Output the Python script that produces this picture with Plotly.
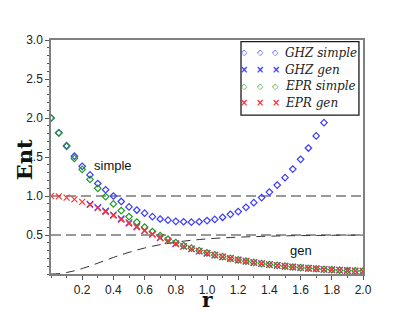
import plotly.graph_objects as go

# ---- data ----
r_grid = [0.00, 0.05, 0.10, 0.15, 0.20, 0.25, 0.30, 0.35, 0.40, 0.45,
          0.50, 0.55, 0.60, 0.65, 0.70, 0.75, 0.80, 0.85, 0.90, 0.95,
          1.00, 1.05, 1.10, 1.15, 1.20, 1.25, 1.30, 1.35, 1.40, 1.45,
          1.50, 1.55, 1.60, 1.65, 1.70, 1.75, 1.80, 1.85, 1.90, 1.95, 2.00]

ghz_simple_r = r_grid[:36]
ghz_simple = [2.00, 1.81, 1.645, 1.51, 1.38, 1.27, 1.16, 1.08, 1.00, 0.93,
              0.86, 0.82, 0.78, 0.735, 0.705, 0.69, 0.675, 0.67, 0.665, 0.67,
              0.685, 0.70, 0.727, 0.765, 0.80, 0.855, 0.915, 0.98, 1.05, 1.14,
              1.235, 1.345, 1.47, 1.615, 1.77, 1.94]

ghz_gen_r = r_grid[5:]
ghz_gen = [0.895, 0.855, 0.808, 0.758, 0.708, 0.658, 0.609, 0.560, 0.512, 0.465,
           0.425, 0.388, 0.354, 0.322, 0.293, 0.266, 0.241, 0.219, 0.199, 0.180,
           0.163, 0.148, 0.134, 0.121, 0.110, 0.099, 0.090, 0.081, 0.074, 0.067,
           0.060, 0.055, 0.049, 0.045, 0.041, 0.037]

epr_simple = [2.000, 1.810, 1.637, 1.482, 1.341, 1.213, 1.098, 0.993, 0.899, 0.813,
              0.736, 0.666, 0.602, 0.545, 0.493, 0.446, 0.404, 0.365, 0.331, 0.299,
              0.271, 0.245, 0.222, 0.200, 0.181, 0.164, 0.149, 0.134, 0.122, 0.110,
              0.100, 0.090, 0.082, 0.074, 0.067, 0.060, 0.055, 0.049, 0.045, 0.041, 0.037]

epr_gen = [1.000, 0.995, 0.980, 0.957, 0.925, 0.887, 0.844, 0.797, 0.748, 0.698,
           0.648, 0.599, 0.552, 0.507, 0.465, 0.425, 0.388, 0.354, 0.322, 0.293,
           0.266, 0.241, 0.219, 0.199, 0.180, 0.163, 0.148, 0.134, 0.121, 0.110,
           0.099, 0.090, 0.081, 0.074, 0.067, 0.060, 0.055, 0.049, 0.045, 0.041, 0.037]

bound_curve = [0.000, 0.005, 0.019, 0.041, 0.070, 0.103, 0.139, 0.176, 0.212, 0.246,
               0.278, 0.307, 0.333, 0.356, 0.376, 0.393, 0.408, 0.421, 0.432, 0.442,
               0.450, 0.457, 0.463, 0.468, 0.472, 0.476, 0.479, 0.482, 0.485, 0.487,
               0.489, 0.491, 0.492, 0.493, 0.494, 0.495, 0.496, 0.497, 0.498, 0.498, 0.499]

ref_levels = [1.0, 0.5]
x_range = [0.0, 2.0]
y_range = [0.0, 3.0]
x_ticks = [0.2, 0.4, 0.6, 0.8, 1.0, 1.2, 1.4, 1.6, 1.8, 2.0]
x_ticktext = ["0.2", "0.4", "0.6", "0.8", "1.0", "1.2", "1.4", "1.6", "1.8", "2.0"]
y_ticks = [0.5, 1.0, 1.5, 2.0, 2.5, 3.0]
y_ticktext = ["0.5", "1.0", "1.5", "2.0", "2.5", "3.0"]

series_names = ["GHZ simple", "GHZ gen", "EPR simple", "EPR gen"]
x_title = "<b>r</b>"
y_title = "<b>Ent</b>"

BLUE = "#3a3aff"
GREEN = "#1f9a1f"
RED = "#ff3333"

series_colors = [BLUE, BLUE, GREEN, RED]
series_glyphs = ["\u25C7", "\u00D7", "\u25C7", "\u00D7"]   # legend key glyphs

fig = go.Figure()

# reference dashed levels
for lv in ref_levels:
    fig.add_trace(go.Scatter(x=x_range, y=[lv, lv], mode="lines",
                             line=dict(color="#333333", width=1, dash="10px,5px"),
                             showlegend=False, hoverinfo="skip"))

# dashed bound curve
fig.add_trace(go.Scatter(x=r_grid, y=bound_curve, mode="lines",
                         line=dict(color="#333333", width=1, dash="9px,6px", shape="spline"),
                         showlegend=False, hoverinfo="skip"))

fig.add_trace(go.Scatter(x=ghz_simple_r, y=ghz_simple, mode="markers", name=series_names[0],
                         showlegend=False,
                         marker=dict(symbol="diamond-open", size=5, color=BLUE,
                                     line=dict(width=1.2, color=BLUE))))
fig.add_trace(go.Scatter(x=ghz_gen_r, y=ghz_gen, mode="markers", name=series_names[1],
                         showlegend=False,
                         marker=dict(symbol="x-thin-open", size=6.5, color=BLUE,
                                     line=dict(width=1.2, color=BLUE))))
fig.add_trace(go.Scatter(x=r_grid, y=epr_simple, mode="markers", name=series_names[2],
                         showlegend=False,
                         marker=dict(symbol="diamond-open", size=5, color=GREEN,
                                     line=dict(width=1.2, color=GREEN))))
fig.add_trace(go.Scatter(x=r_grid, y=epr_gen, mode="markers", name=series_names[3],
                         showlegend=False,
                         marker=dict(symbol="x-thin-open", size=6, color=RED,
                                     line=dict(width=1.2, color=RED))))

fig.add_annotation(x=0.4, y=1.39, xref="x", yref="y", text="simple", showarrow=False,
                   xanchor="center", yanchor="middle",
                   font=dict(family="Liberation Sans, Arial", size=13, color="#111111"))
fig.add_annotation(x=1.6, y=0.295, xref="x", yref="y", text="gen", showarrow=False,
                   xanchor="center", yanchor="middle",
                   font=dict(family="Liberation Sans, Arial", size=13, color="#111111"))

# axis titles as annotations (fixed placement)
fig.add_annotation(x=0.5, y=-0.112, xref="paper", yref="paper", text=x_title, showarrow=False,
                   xanchor="center", yanchor="middle",
                   font=dict(family="DejaVu Serif", size=20, color="#111111"))
fig.add_annotation(x=-0.087, y=0.49, xref="paper", yref="paper", text=y_title, showarrow=False,
                   xanchor="center", yanchor="middle", textangle=-90,
                   font=dict(family="DejaVu Serif", size=21, color="#111111"))

# ---- legend box (Maple style: three keys per entry) ----
LEG_X0, LEG_X1, LEG_Y0, LEG_Y1 = 0.609, 0.987, 0.679, 0.993
LEG_ROWS = [0.946, 0.873, 0.803, 0.731]
LEG_KEYS_X = [0.620, 0.671, 0.721]
LEG_TEXT_X = 0.744
fig.add_shape(type="rect", xref="paper", yref="paper",
              x0=LEG_X0, x1=LEG_X1, y0=LEG_Y0, y1=LEG_Y1, opacity=1,
              fillcolor="white", line=dict(color="#1a1a1a", width=1.3), layer="above")
for name, col, glyph, ry in zip(series_names, series_colors, series_glyphs, LEG_ROWS):
    for kx in LEG_KEYS_X:
        fig.add_annotation(x=kx, y=ry, xref="paper", yref="paper", text=glyph,
                           showarrow=False, xanchor="center", yanchor="middle",
                           font=dict(family="DejaVu Sans", size=8 if glyph == "\u25C7" else 10,
                                     color=col, weight="bold"))
    fig.add_annotation(x=LEG_TEXT_X, y=ry, xref="paper", yref="paper",
                       text="<i>" + name + "</i>", showarrow=False,
                       xanchor="left", yanchor="middle",
                       font=dict(family="DejaVu Serif", size=12, color="#222222"))

axis_common = dict(showline=True, linecolor="#808080", linewidth=1.5, mirror=True,
                   showgrid=False, zeroline=False, ticks="outside", tickcolor="#555555",
                   ticklen=4, tickwidth=1, automargin=False,
                   tickfont=dict(family="Liberation Sans, Arial", size=12, color="#222222"))

fig.update_xaxes(range=x_range, tickvals=x_ticks, ticktext=x_ticktext,
                 minor=dict(dtick=0.1, tick0=0, ticks="outside", ticklen=2, tickcolor="#555555"),
                 **axis_common)
fig.update_yaxes(range=y_range, tickvals=y_ticks, ticktext=y_ticktext,
                 minor=dict(dtick=0.1, tick0=0, ticks="outside", ticklen=2, tickcolor="#555555"),
                 **axis_common)

# the page body adds an 8px offset; margins compensate so the plot area sits at
# x 51..363, y 40..274 in the window
fig.update_layout(
    width=415, height=313,
    margin=dict(l=43, r=60, t=32, b=47, autoexpand=False),
    paper_bgcolor="white", plot_bgcolor="white",
    showlegend=False,
)

fig.write_html("out.html")
